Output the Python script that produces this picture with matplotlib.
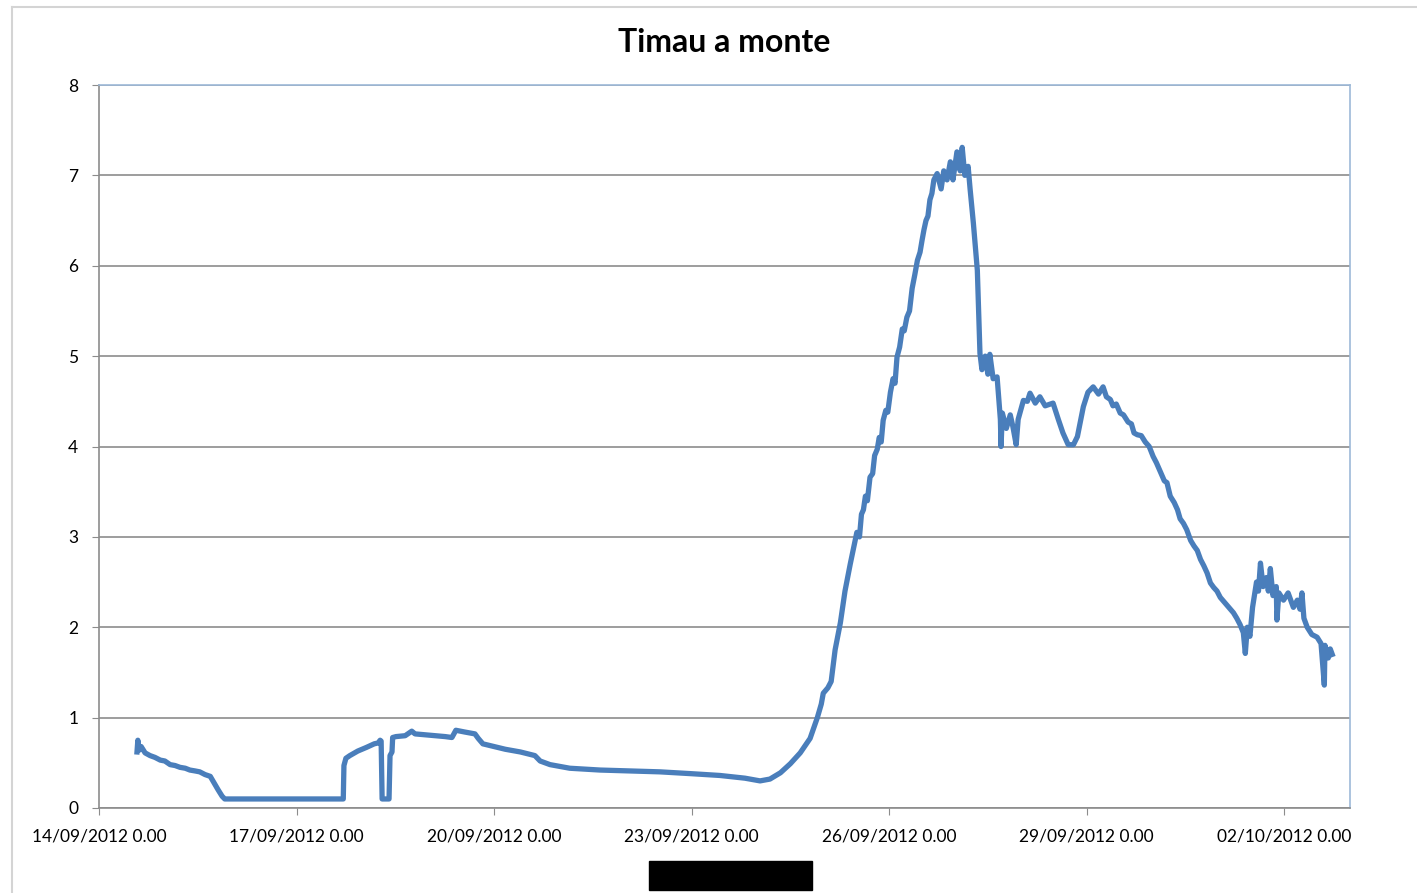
import matplotlib.pyplot as plt
import matplotlib.dates as mdates
from matplotlib.ticker import FuncFormatter
from matplotlib.patches import Rectangle
from matplotlib.lines import Line2D
import pandas as pd

# level readings, time given as days after 14/09/2012 0.00
start = pd.Timestamp('2012-09-14')
days = [0.577, 0.59, 0.61, 0.64, 0.70, 0.775, 0.85, 0.93, 1.00, 1.08, 1.155, 1.23, 1.31, 1.38,
        1.46, 1.53, 1.61, 1.69, 1.73, 1.81, 1.87, 1.91,
        3.71, 3.72, 3.75, 3.81, 3.93, 4.06, 4.18, 4.24, 4.27, 4.285, 4.30, 4.405, 4.42, 4.45,
        4.46, 4.51, 4.65, 4.75, 4.80, 4.95, 5.10, 5.26, 5.36, 5.42, 5.56, 5.71, 5.76, 5.83,
        6.00, 6.17, 6.40, 6.62, 6.70, 6.85, 7.15, 7.61, 8.07, 8.52, 8.99, 9.43, 9.81, 10.04,
        10.19, 10.35, 10.50, 10.65, 10.80, 10.91, 10.97, 11.00, 11.07, 11.12, 11.18, 11.26,
        11.33, 11.41, 11.51, 11.55, 11.58, 11.61, 11.64, 11.67, 11.71, 11.75, 11.78, 11.82,
        11.85, 11.88, 11.91, 11.95, 11.98, 12.02, 12.06, 12.09, 12.12, 12.16, 12.20, 12.23,
        12.27, 12.31, 12.35, 12.39, 12.43, 12.47, 12.50, 12.53, 12.56, 12.59, 12.62, 12.65,
        12.68, 12.73, 12.79, 12.83, 12.88, 12.93, 12.97, 13.03,
        13.08, 13.11, 13.15, 13.20, 13.23, 13.28, 13.34, 13.38, 13.41, 13.46, 13.50, 13.53,
        13.58, 13.64, 13.69, 13.70, 13.72, 13.78, 13.84, 13.88, 13.93, 13.96, 14.04, 14.10,
        14.14, 14.22, 14.29, 14.37, 14.49, 14.57, 14.64, 14.72, 14.80, 14.86, 14.95, 15.02,
        15.10, 15.18, 15.25, 15.30, 15.36, 15.40, 15.45, 15.51, 15.56, 15.63, 15.68, 15.72,
        15.77, 15.83, 15.89, 15.95, 16.01, 16.06, 16.12, 16.18, 16.22, 16.27, 16.33, 16.38,
        16.42, 16.47, 16.52, 16.58, 16.63, 16.68, 16.73, 16.78, 16.83, 16.88, 16.93, 16.98,
        17.03, 17.10, 17.16, 17.23, 17.28, 17.33, 17.38, 17.41, 17.44, 17.48, 17.52, 17.58,
        17.61, 17.64, 17.68, 17.73, 17.76, 17.79, 17.83, 17.88, 17.89, 17.92, 17.99, 18.06,
        18.14, 18.20, 18.24, 18.27, 18.30, 18.35, 18.42, 18.50, 18.56, 18.61, 18.62, 18.67,
        18.70, 18.73]
level = [0.62, 0.75, 0.64, 0.68, 0.61, 0.58, 0.56, 0.53, 0.52, 0.48, 0.47, 0.45, 0.44, 0.42,
         0.41, 0.40, 0.37, 0.35, 0.30, 0.20, 0.13, 0.10,
         0.10, 0.47, 0.55, 0.58, 0.63, 0.67, 0.71, 0.72, 0.75, 0.74, 0.10, 0.10, 0.58, 0.62,
         0.78, 0.79, 0.80, 0.85, 0.82, 0.81, 0.80, 0.79, 0.78, 0.86, 0.84, 0.82, 0.77, 0.71,
         0.68, 0.65, 0.62, 0.58, 0.52, 0.48, 0.44, 0.42, 0.41, 0.40, 0.38, 0.36, 0.33, 0.30,
         0.32, 0.39, 0.49, 0.61, 0.77, 1.00, 1.15, 1.27, 1.33, 1.40, 1.75, 2.05,
         2.40, 2.70, 3.05, 3.00, 3.25, 3.30, 3.45, 3.40, 3.66, 3.70, 3.90, 3.97,
         4.10, 4.05, 4.29, 4.40, 4.38, 4.60, 4.75, 4.70, 4.99, 5.10, 5.30, 5.28,
         5.43, 5.50, 5.75, 5.90, 6.06, 6.15, 6.28, 6.40, 6.50, 6.55, 6.73, 6.80,
         6.95, 7.02, 6.85, 7.05, 6.95, 7.15, 6.95, 7.26,
         7.05, 7.31, 7.00, 7.10, 6.85, 6.47, 5.95, 5.03, 4.85, 5.00, 4.80, 5.02,
         4.75, 4.77, 4.30, 4.00, 4.37, 4.20, 4.35, 4.22, 4.02, 4.30, 4.51, 4.50,
         4.59, 4.48, 4.55, 4.45, 4.48, 4.30, 4.15, 4.02, 4.02, 4.11, 4.44, 4.60,
         4.66, 4.58, 4.66, 4.55, 4.52, 4.45, 4.47, 4.37, 4.35, 4.27, 4.25, 4.15,
         4.13, 4.12, 4.05, 4.00, 3.89, 3.82, 3.72, 3.62, 3.60, 3.45, 3.38, 3.30,
         3.20, 3.15, 3.08, 2.96, 2.90, 2.85, 2.75, 2.68, 2.60, 2.49, 2.44, 2.40,
         2.33, 2.27, 2.22, 2.16, 2.10, 2.03, 1.94, 1.71, 2.00, 1.90, 2.22, 2.50,
         2.40, 2.71, 2.45, 2.55, 2.40, 2.65, 2.35, 2.45, 2.08, 2.38, 2.30, 2.38,
         2.22, 2.30, 2.20, 2.38, 2.10, 2.00, 1.92, 1.89, 1.82, 1.36, 1.80, 1.66,
         1.76, 1.70]

times = start + pd.to_timedelta(days, unit='D')

plt.rcParams['font.family'] = ['Lato', 'DejaVu Sans']

fig = plt.figure(figsize=(14.17, 8.93), dpi=100)
ax = fig.add_axes([99/1417, 1-808/893, (1350-99)/1417, (808-85)/893])

ax.plot(times, level, color='#4A7EBB', lw=3.8, solid_joinstyle='round')

ax.set_ylim(0, 8)
ax.set_yticks(range(0, 9))
ax.set_xlim(start, pd.Timestamp('2012-10-03'))
ax.set_xticks(pd.date_range('2012-09-14', '2012-10-02', freq='3D'))
ax.xaxis.set_major_formatter(FuncFormatter(
    lambda v, p: mdates.num2date(v).strftime('%d/%m/%Y') + ' 0.00'))

ax.grid(axis='y', color='#8C8C8C', lw=1.2)
ax.set_axisbelow(True)
for s in ['left', 'bottom']:
    ax.spines[s].set_color('#8C8C8C')
    ax.spines[s].set_linewidth(1.2)
for s in ['top', 'right']:
    ax.spines[s].set_color('#9DB9D8')
    ax.spines[s].set_linewidth(1.2)
ax.tick_params(axis='both', length=5, color='#8C8C8C', labelsize=12.5, labelcolor='#000000')
ax.tick_params(axis='y', pad=10)
ax.tick_params(axis='x', pad=10)

fig.text(0.511, 1-42/893, 'Timau a monte', ha='center', va='center',
         fontsize=23, fontweight='bold')

# outer frame and the black box at the bottom
fig.add_artist(Line2D([12/1417, 1], [1-7/893, 1-7/893], color='#D4D4D4', lw=1.5))
fig.add_artist(Line2D([12/1417, 12/1417], [0, 1-7/893], color='#D4D4D4', lw=1.5))
fig.add_artist(Rectangle((649/1417, 1-890/893), 163/1417, 29/893,
                         color='black', transform=fig.transFigure))

fig.savefig('out.png', dpi=100)
